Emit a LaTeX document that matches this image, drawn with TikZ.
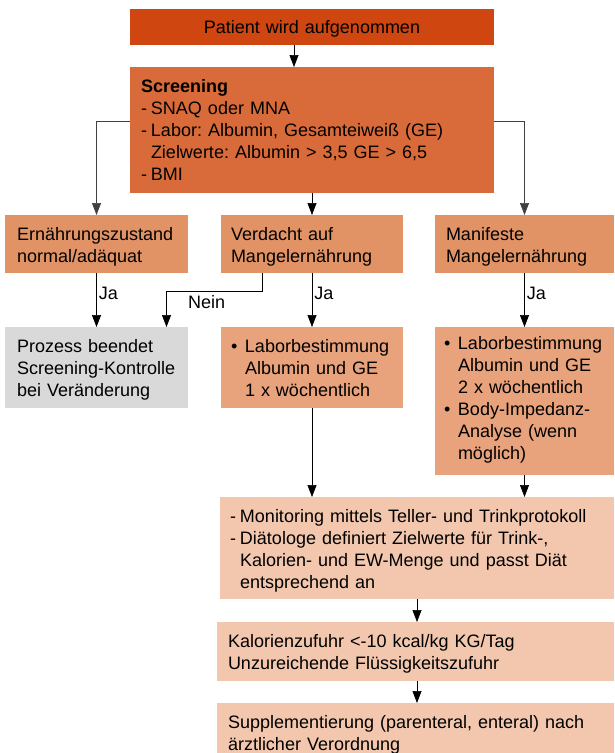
\documentclass[tikz,border=0pt]{standalone}
\usepackage{fontspec}
\setmainfont{Liberation Sans}
\usetikzlibrary{positioning,arrows.meta}
\definecolor{cdark}{HTML}{CF4611}
\definecolor{cscreen}{HTML}{D96B3A}
\definecolor{cmid}{HTML}{E29366}
\definecolor{clight}{HTML}{E8A27C}
\definecolor{cpale}{HTML}{F2C7AE}
\definecolor{cgrey}{HTML}{D9D9D9}
\newcommand{\strich}{\makebox[10pt][l]{-}}
\newcommand{\punkt}{\makebox[14pt][l]{\textbullet}}
\frenchspacing

\begin{document}
\begin{tikzpicture}[
    x=1pt, y=-1pt,
    box/.style={anchor=north west, inner xsep=10pt, inner ysep=0pt, outer sep=0pt,
                text height=25pt, align=left, font=\fontsize{18}{22}\selectfont},
    ja/.style={font=\fontsize{18}{22}\selectfont, inner sep=2pt},
    >={Triangle[length=12pt,width=9pt]}, line width=0.7pt
  ]
  \useasboundingbox (0,0) rectangle (614,753);

  \node[box, fill=cdark, align=center, text width=344pt, text height=24pt, text depth=12pt] (start) at (130,9) {Patient wird aufgenommen};
  \node[box, fill=cscreen, inner xsep=11pt, text width=342pt, text depth=101pt] (screen) at (130,67) {%
    \textbf{Screening}\\
    \strich SNAQ oder MNA\\
    \strich Labor: Albumin, Gesamteiweiß (GE)\\
    \hspace*{10pt}Zielwerte: Albumin > 3,5 GE > 6,5\\
    \strich BMI};

  \node[box, fill=cmid, inner xsep=12pt, text width=159pt, text depth=33pt] (normal) at (5,215) {Ernährungszustand\\normal/adäquat};
  \node[box, fill=cmid, text width=162pt, text depth=33pt] (verdacht) at (221,215) {Verdacht auf\\Mangelernährung};
  \node[box, fill=cmid, inner xsep=11pt, text width=157pt, text depth=33pt] (manifest) at (435,215) {Manifeste\\Mangelernährung};

  \node[box, fill=cgrey, inner xsep=12pt, text width=159pt, text depth=56pt] (ende) at (5,327) {Prozess beendet\\Screening-Kontrolle\\bei Veränderung};
  \node[box, fill=clight, text width=162pt, text depth=56pt] (labor1) at (221,327) {%
    \punkt Laborbestimmung\\
    \hspace*{14pt}Albumin und GE\\
    \hspace*{14pt}1 x wöchentlich};
  \node[box, fill=clight, inner xsep=9pt, text width=161pt, text height=22pt, text depth=126pt] (labor2) at (435,327) {%
    \punkt Laborbestimmung\\
    \hspace*{14pt}Albumin und GE\\
    \hspace*{14pt}2 x wöchentlich\\
    \punkt Body-Impedanz-\\
    \hspace*{14pt}Analyse (wenn\\
    \hspace*{14pt}möglich)};

  \node[box, fill=cpale, text width=374pt, text depth=77pt] (monitor) at (220,497) {%
    \strich Monitoring mittels Teller- und Trinkprotokoll\\
    \strich Diätologe definiert Zielwerte für Trink-,\\
    \hspace*{10pt}Kalorien- und EW-Menge und passt Diät\\
    \hspace*{10pt}entsprechend an};
  \node[box, fill=cpale, inner xsep=11pt, text width=375pt, text depth=34pt] (kalorie) at (217,622) {Kalorienzufuhr <-10 kcal/kg KG/Tag\\Unzureichende Flüssigkeitszufuhr};
  \node[box, fill=cpale, inner xsep=11pt, text width=375pt, text depth=25pt] (suppl) at (217,703) {Supplementierung (parenteral, enteral) nach\\ärztlicher Verordnung};

  \draw[->] ([xshift=-18pt]start.south) -- ([xshift=-18pt]start.south |- screen.north);
  \draw[->, black!75] ([yshift=9pt]screen.west) -| (normal.north);
  \draw[->, black!75] ([yshift=9pt]screen.east) -| (manifest.north);
  \draw[->] (verdacht.north |- screen.south) -- (verdacht.north);

  \draw[->] (normal.south) -- (ende.north) node[ja, pos=0.38, right] {Ja};
  \draw[->] ([xshift=-50pt]verdacht.south) -- ++(0,18) -| ([xshift=70pt]ende.north) node[ja, pos=0.29, below=2pt] {Nein};
  \draw[->] (verdacht.south) -- (labor1.north) node[ja, pos=0.38, right] {Ja};
  \draw[->] (manifest.south) -- (labor2.north) node[ja, pos=0.38, right] {Ja};

  \draw[->] (labor1.south) -- (labor1.south |- monitor.north);
  \draw[->] (labor2.south) -- (labor2.south |- monitor.north);
  \draw[->] (monitor.south) -- (monitor.south |- kalorie.north);
  \draw[->] (monitor.south |- kalorie.south) -- (monitor.south |- suppl.north);
\end{tikzpicture}
\end{document}
